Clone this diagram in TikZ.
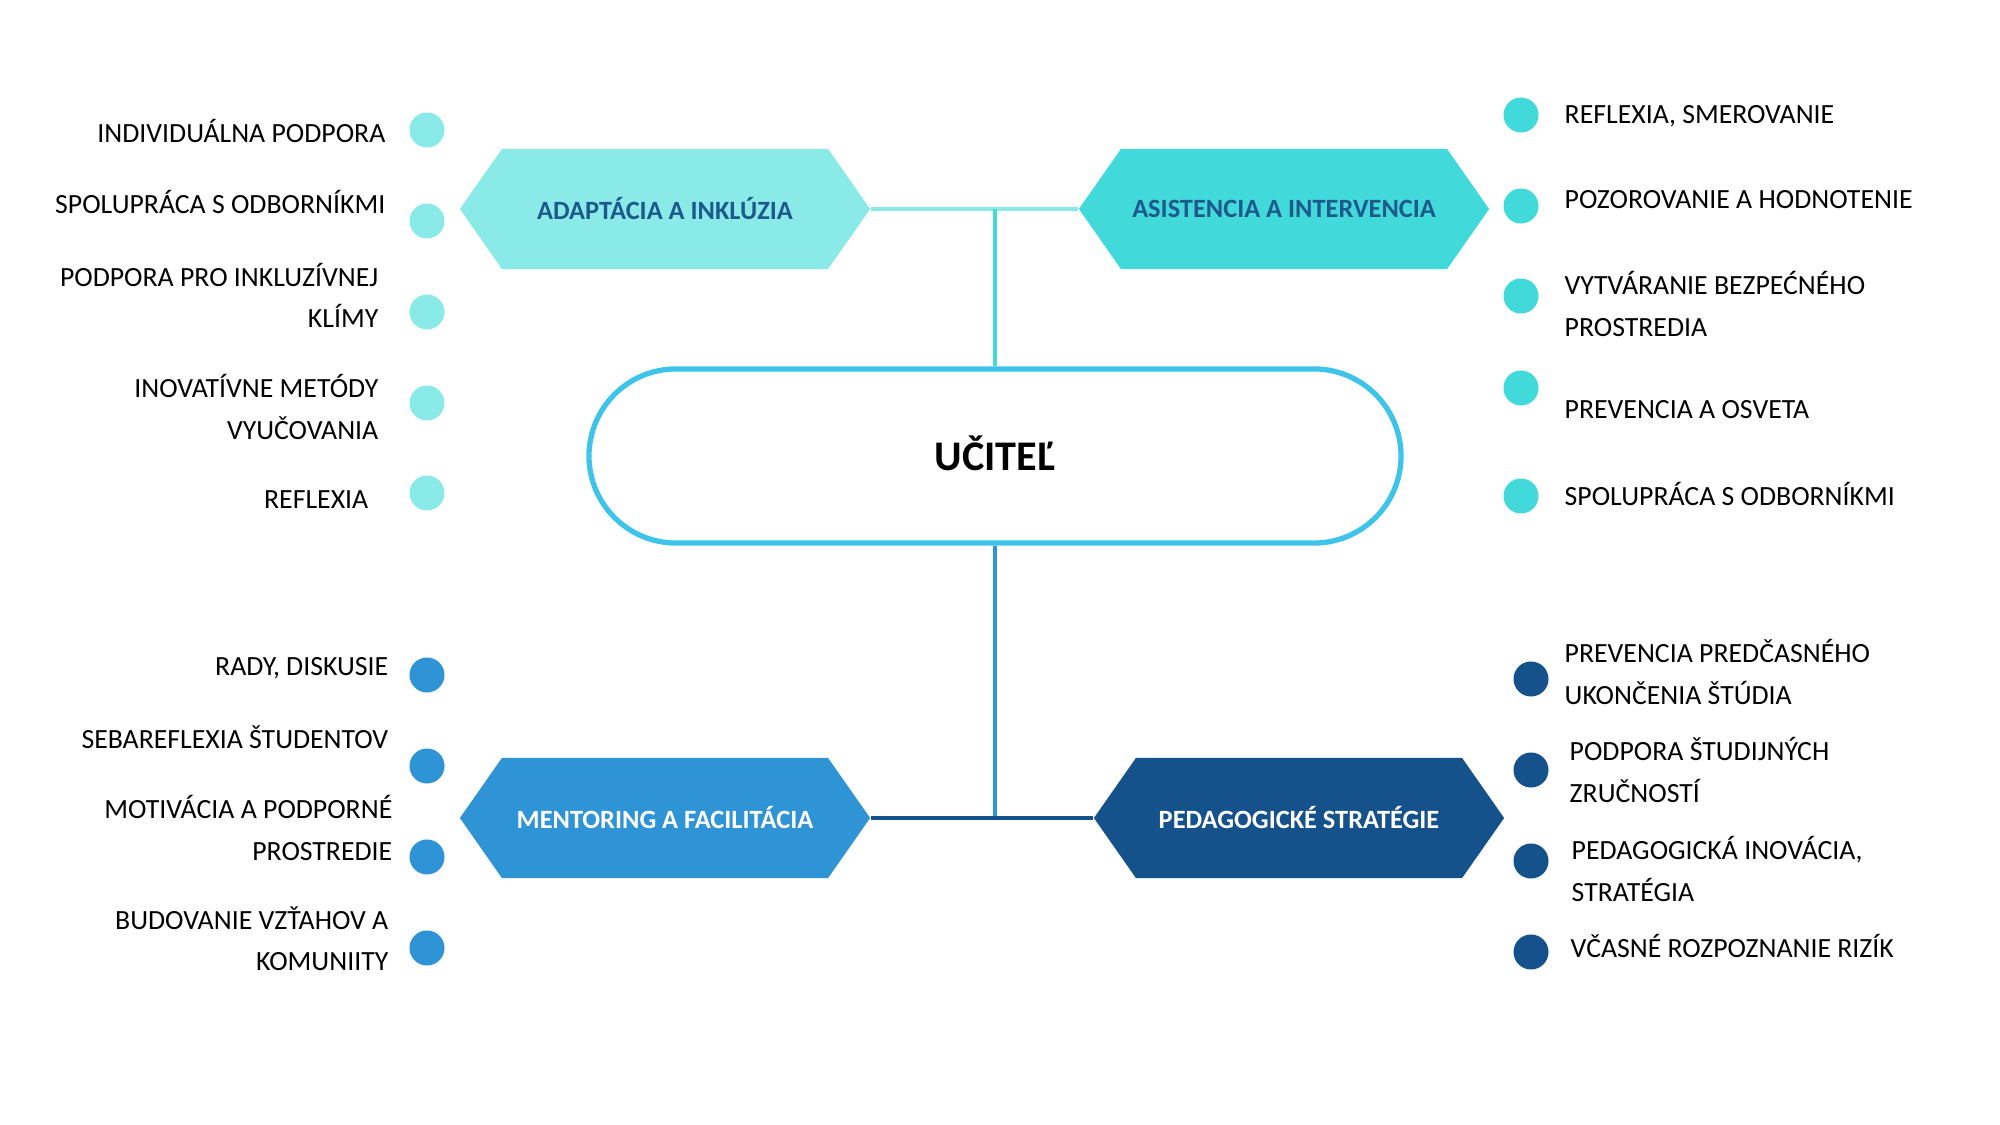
\documentclass[tikz,border=0pt]{standalone}
\usepackage{fontspec}
\setmainfont{Carlito}
\usepackage{xcolor}
\usepackage{tikz}
\usetikzlibrary{shapes.misc,shapes.symbols}

\definecolor{adcol}{RGB}{138,234,232}
\definecolor{ascol}{RGB}{66,217,218}
\definecolor{mecol}{RGB}{46,148,213}
\definecolor{pecol}{RGB}{21,82,139}
\definecolor{ucol}{RGB}{62,196,234}
\definecolor{labcol}{RGB}{28,90,140}

\tikzset{
  hexbox/.style={signal, signal to=east and west, signal pointer angle=110,
    minimum width=4.1cm, minimum height=1.2cm, inner sep=0pt,
    font=\fontsize{7.5pt}{9pt}\selectfont\bfseries},
  dot/.style={circle, fill=#1, minimum size=0.35cm, inner sep=0pt},
  item/.style={inner sep=0pt, font=\fontsize{7.9pt}{11.7pt}\selectfont},
  litem/.style={item, align=right, anchor=east},
  ritem/.style={item, align=left, anchor=west},
}

\begin{document}
\begin{tikzpicture}[x=0.01cm,y=-0.01cm]

\useasboundingbox (0,0) rectangle (2000,1125);

% Central node
\node[rounded rectangle, draw=ucol, line width=1.5pt, fill=white,
  minimum width=8.35cm, minimum height=1.74cm,
  font=\fontsize{12pt}{14pt}\selectfont\bfseries] (teacher) at (995,456) {\raisebox{1.8pt}{UČITEĽ}};

% Four branches
\node[hexbox, fill=adcol, text=labcol] (adapt) at (665,209) {ADAPTÁCIA A INKLÚZIA};
\node[hexbox, fill=ascol, text=labcol] (asist) at (1284,209) {ASISTENCIA A INTERVENCIA};
\node[hexbox, fill=mecol, text=white] (mentor) at (665,818) {MENTORING A FACILITÁCIA};
\node[hexbox, fill=pecol, text=white] (pedag) at (1299,818) {PEDAGOGICKÉ STRATÉGIE};

% Connectors
\draw[adcol, line width=1.1pt] (adapt.east) -- (asist.west);
\draw[ascol, line width=0.95pt] (teacher.north) -- (teacher.north |- adapt.east);
\draw[mecol, line width=0.95pt] (teacher.south) -- (teacher.south |- mentor.east);
\draw[pecol, line width=0.95pt] (mentor.east) -- (pedag.west);

% Left top: adaptation items
\node[dot=adcol] (ad1) at (427,130) {};
\node[dot=adcol] (ad2) at (427,221) {};
\node[dot=adcol] (ad3) at (427,312) {};
\node[dot=adcol] (ad4) at (427,403) {};
\node[dot=adcol] (ad5) at (427,493) {};
\node[litem] (adt1) at (386,131) {INDIVIDUÁLNA PODPORA};
\node[litem] (adt2) at (386,202) {SPOLUPRÁCA S ODBORNÍKMI};
\node[litem] (adt3) at (379,295) {PODPORA PRO INKLUZÍVNEJ\\KLÍMY};
\node[litem] (adt4) at (379,407) {INOVATÍVNE METÓDY\\VYUČOVANIA};
\node[litem] (adt5) at (369,500) {REFLEXIA};

% Right top: assistance items
\node[dot=ascol] (as1) at (1521,115) {};
\node[dot=ascol] (as2) at (1521,206) {};
\node[dot=ascol] (as3) at (1521,296) {};
\node[dot=ascol] (as4) at (1521,388) {};
\node[dot=ascol] (as5) at (1521,496) {};
\node[ritem] (ast1) at (1564,116) {REFLEXIA, SMEROVANIE};
\node[ritem] (ast2) at (1564,200) {POZOROVANIE A HODNOTENIE};
\node[ritem] (ast3) at (1564,304) {VYTVÁRANIE BEZPEĆNÉHO\\PROSTREDIA};
\node[ritem] (ast4) at (1564,410) {PREVENCIA A OSVETA};
\node[ritem] (ast5) at (1564,494) {SPOLUPRÁCA S ODBORNÍKMI};

% Left bottom: mentoring items
\node[dot=mecol] (me1) at (427,675) {};
\node[dot=mecol] (me2) at (427,766) {};
\node[dot=mecol] (me3) at (427,857) {};
\node[dot=mecol] (me4) at (427,948) {};
\node[litem] (met1) at (389,668) {RADY, DISKUSIE};
\node[litem] (met2) at (389,737) {SEBAREFLEXIA ŠTUDENTOV};
\node[litem] (met3) at (393,828) {MOTIVÁCIA A PODPORNÉ\\PROSTREDIE};
\node[litem] (met4) at (389,939) {BUDOVANIE VZŤAHOV A\\KOMUNIITY};

% Right bottom: pedagogical items
\node[dot=pecol] (pe1) at (1531,679) {};
\node[dot=pecol] (pe2) at (1531,770) {};
\node[dot=pecol] (pe3) at (1531,861) {};
\node[dot=pecol] (pe4) at (1531,952) {};
\node[ritem] (pet1) at (1564,672) {PREVENCIA PREDČASNÉHO\\UKONČENIA ŠTÚDIA};
\node[ritem] (pet2) at (1569,770) {PODPORA ŠTUDIJNÝCH\\ZRUČNOSTÍ};
\node[ritem] (pet3) at (1571,869) {PEDAGOGICKÁ INOVÁCIA,\\STRATÉGIA};
\node[ritem] (pet4) at (1570,946) {VČASNÉ ROZPOZNANIE RIZÍK};

\end{tikzpicture}
\end{document}
